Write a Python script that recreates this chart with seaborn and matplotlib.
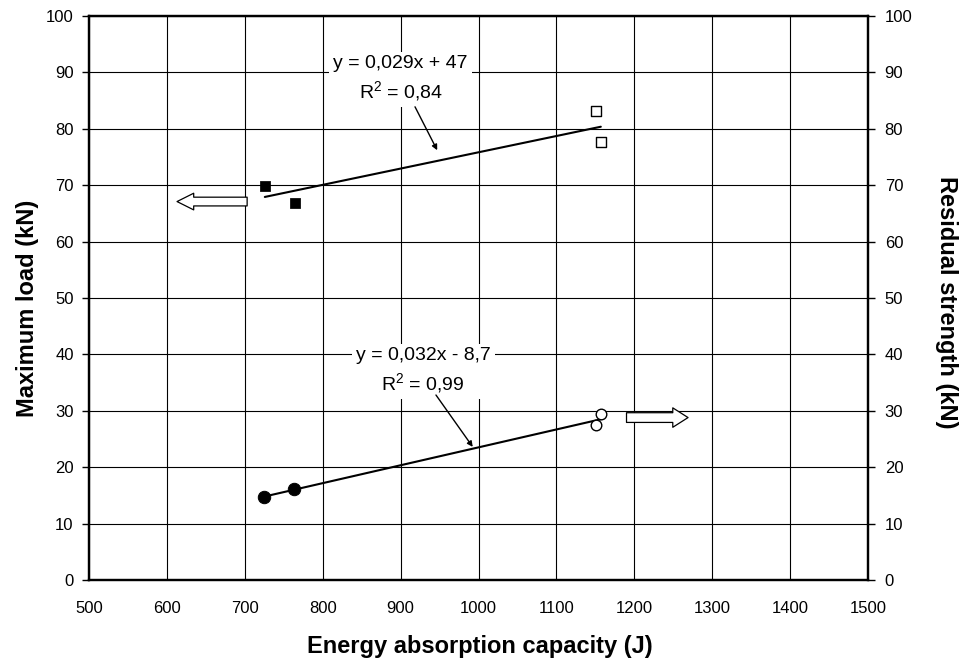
import matplotlib
matplotlib.use("Agg")
import matplotlib.pyplot as plt
import seaborn as sns
import numpy as np
import pandas as pd

# ---- data ----
energy_max_filled = [725.7, 764.0]
max_load_filled = [69.9, 66.8]
energy_max_open = [1151.0, 1157.0]
max_load_open = [83.2, 77.6]

energy_res_filled = [724.6, 763.0]
residual_filled = [14.7, 16.1]
energy_res_open = [1151.0, 1157.5]
residual_open = [27.4, 29.4]

x_ticks = [500, 600, 700, 800, 900, 1000, 1100, 1200, 1300, 1400, 1500]
y_ticks = [0, 10, 20, 30, 40, 50, 60, 70, 80, 90, 100]

eq_max = "y = 0,029x + 47\nR$^2$ = 0,84"
eq_res = "y = 0,032x - 8,7\nR$^2$ = 0,99"

sns.set_style("white")
plt.rcParams['font.family'] = ['Liberation Sans', 'DejaVu Sans']
plt.rcParams['mathtext.default'] = 'regular'
plt.rcParams['text.color'] = 'black'
plt.rcParams['axes.labelcolor'] = 'black'

fig = plt.figure(figsize=(9.61, 6.59), dpi=100)
ax = fig.add_axes([89/961, 1 - 580/659, (868-89)/961, (580-16)/659])
ax2 = ax.twinx()

df_max = pd.DataFrame({"energy": energy_max_filled + energy_max_open,
                       "load": max_load_filled + max_load_open})
df_res = pd.DataFrame({"energy": energy_res_filled + energy_res_open,
                       "res": residual_filled + residual_open})

ax.set_axisbelow(True)
ax.grid(True, color='black', lw=0.8)

# trendlines
sns.regplot(data=df_max, x="energy", y="load", ax=ax, scatter=False, ci=None,
            truncate=True, color='black', line_kws=dict(lw=1.5, zorder=3))
sns.regplot(data=df_res, x="energy", y="res", ax=ax2, scatter=False, ci=None,
            truncate=True, color='black', line_kws=dict(lw=1.5, zorder=3))

# markers
sns.scatterplot(x=energy_max_filled, y=max_load_filled, ax=ax, marker='s', s=45,
                color='black', edgecolor='black', zorder=4)
sns.scatterplot(x=energy_max_open, y=max_load_open, ax=ax, marker='s', s=42,
                facecolor='white', edgecolor='black', linewidth=1.0, zorder=4)
sns.scatterplot(x=energy_res_filled, y=residual_filled, ax=ax2, marker='o', s=80,
                color='black', edgecolor='black', zorder=4)
sns.scatterplot(x=energy_res_open, y=residual_open, ax=ax2, marker='o', s=58,
                facecolor='white', edgecolor='black', linewidth=1.0, zorder=4)

for a in (ax, ax2):
    a.set_xlim(500, 1500)
    a.set_ylim(0, 100)
    for s in a.spines.values():
        s.set_linewidth(1.6)
        s.set_color('black')

ax.set_xticks(x_ticks)
ax.set_yticks(y_ticks)
ax2.set_yticks(y_ticks)
ax.tick_params(axis='x', direction='out', length=5, width=1, labelsize=12,
               colors='black', pad=10)
ax.tick_params(axis='y', direction='out', length=5, width=1, labelsize=12,
               colors='black', pad=6)
ax2.tick_params(axis='y', direction='out', length=5, width=1, labelsize=12,
                colors='black', pad=7)

ax.set_xlabel("Energy absorption capacity (J)", fontsize=17, fontweight='bold',
              va='center')
ax.set_ylabel("Maximum load (kN)", fontsize=17, fontweight='bold', va='center')
ax2.set_ylabel("Residual strength (kN)", fontsize=17, fontweight='bold', rotation=270,
               va='center')
# label positions (axes fraction): axes spans x 89..868 px, y 16..580 px
ax.xaxis.set_label_coords((480 - 89) / 779, -(646 - 580) / 564)
ax.yaxis.set_label_coords(-(89 - 28) / 779, (580 - 308) / 564)
ax2.yaxis.set_label_coords(1 + (946 - 868) / 779, (580 - 302) / 564)

# equation labels
ax.text(900, 88.8, eq_max, ha='center', va='center', fontsize=14, linespacing=1.4,
        bbox=dict(fc='white', ec='none', pad=3), zorder=2.5)
ax2.text(929, 37.1, eq_res, ha='center', va='center', fontsize=14, linespacing=1.4,
         bbox=dict(fc='white', ec='none', pad=3), zorder=2.5)
# leader arrows
ax.annotate("", xy=(947, 76.2), xytext=(918.5, 83.9),
            arrowprops=dict(arrowstyle='-|>', color='black', lw=1.0,
                            mutation_scale=8, shrinkA=0, shrinkB=0))
ax2.annotate("", xy=(992.6, 23.6), xytext=(945.4, 32.8),
             arrowprops=dict(arrowstyle='-|>', color='black', lw=1.0,
                             mutation_scale=8, shrinkA=0, shrinkB=0))

# hollow block arrows indicating axes
ax.annotate("", xy=(613, 67.1), xytext=(703, 67.1),
            arrowprops=dict(arrowstyle='simple,head_length=12,head_width=12,tail_width=6.3',
                            mutation_scale=1, fc='white', ec='black', lw=0.9,
                            shrinkA=0, shrinkB=0))
ax2.annotate("", xy=(1269, 28.8), xytext=(1190, 28.8),
             arrowprops=dict(arrowstyle='simple,head_length=11,head_width=14,tail_width=7',
                             mutation_scale=1, fc='white', ec='black', lw=0.9,
                             shrinkA=0, shrinkB=0))

fig.savefig("out.png", dpi=100)
